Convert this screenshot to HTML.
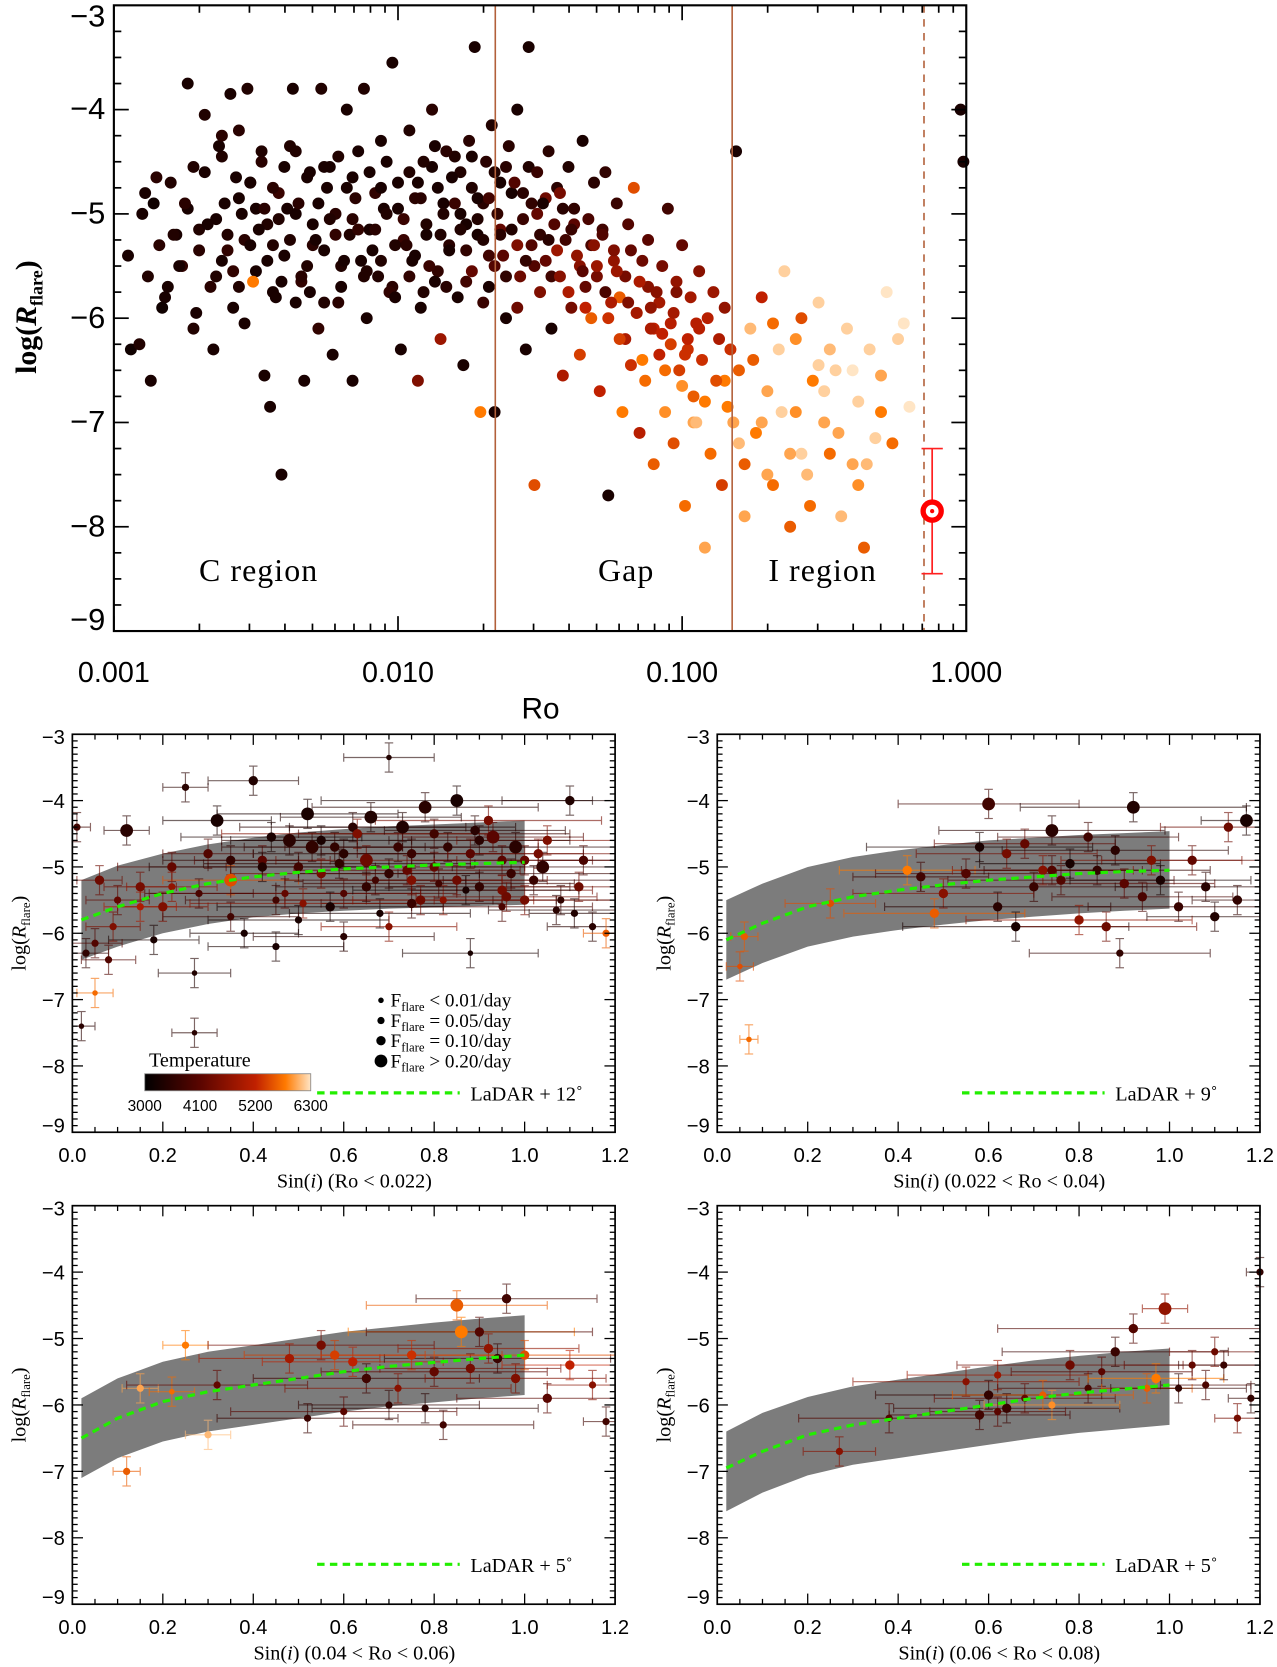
<!DOCTYPE html>
<html><head><meta charset="utf-8">
<style>
html,body{margin:0;padding:0;background:#fff;}
svg{display:block;}
.sans{font-family:"Liberation Sans",sans-serif;}
.serif{font-family:"Liberation Serif",serif;}
</style></head>
<body>
<svg id="fig" width="1277" height="1667" viewBox="0 0 1200 1566.5" xmlns="http://www.w3.org/2000/svg"></svg>
<script>
// ---------------- TOP PANEL DATA ----------------
const topLogRo = [
-2.95,-2.94,-2.91,-2.89,-2.87,-2.85,-2.83,-2.81,-2.79,-2.77,
-2.75,-2.74,-2.72,-2.71,-2.70,-2.68,-2.67,-2.65,-2.64,-2.63,
-2.62,-2.61,-2.60,-2.59,-2.58,-2.57,-2.56,-2.55,-2.54,-2.53,
-2.52,-2.51,-2.50,-2.48,-2.47,-2.46,-2.45,-2.44,-2.43,-2.42,
-2.41,-2.40,-2.38,-2.37,-2.36,-2.35,-2.33,-2.32,-2.31,-2.30,
-2.28,-2.27,-2.26,-2.25,-2.23,-2.22,-2.21,-2.20,-2.18,-2.17,
-2.16,-2.15,-2.13,-2.12,-2.11,-2.10,-2.08,-2.07,-2.06,-2.05,
-2.03,-2.02,-2.01,-2.00,-1.99,-1.98,-1.96,-1.95,-1.94,-1.93,
-1.92,-1.91,-1.90,-1.88,-1.87,-1.86,-1.85,-1.84,-1.83,-1.82,
-1.80,-1.79,-1.78,-1.77,-1.76,-1.75,-1.74,-1.73,-1.72,-1.71,
-1.70,-1.69,-1.68,-1.67,-1.66,-1.65,-1.64,-1.63,-1.62,-1.61,
-1.60,-1.58,-1.57,-1.56,-1.55,-1.54,-1.53,-1.52,-1.51,-1.50,
-1.49,-1.48,-1.47,-1.46,-1.45,-1.44,-1.43,-1.42,-1.41,-1.40,
-1.39,-1.38,-1.37,-1.36,-1.35,-1.34,-1.33,-1.32,-1.31,-1.30,
-1.29,-1.28,-1.27,-1.26,-1.25,-1.24,-1.23,-1.22,-1.21,-1.20,
-1.19,-1.18,-1.17,-1.16,-1.15,-1.14,-1.13,-1.12,-1.11,-1.10,
-1.09,-1.08,-1.07,-1.06,-1.05,-1.04,-1.03,-1.02,-1.01,-1.00,
-0.99,-0.98,-0.97,-0.96,-0.95,-0.94,-0.93,-0.92,-0.91,-0.90,
-0.89,-0.88,-0.87,-0.86,-0.85,-0.84,-0.83,-0.82,-0.81,-0.80,
-0.78,-0.76,-0.74,-0.72,-0.70,-0.68,-0.66,-0.64,-0.62,-0.60,
-0.58,-0.56,-0.54,-0.52,-0.50,-0.48,-0.46,-0.44,-0.42,-0.40,
-0.38,-0.36,-0.34,-0.32,-0.30,-0.28,-0.26,-0.24,-0.22,-0.20,
-0.02,-0.01,
-2.49,-2.44,-2.39,-2.34,-2.29,-2.24,-2.19,-2.14,-2.09,-2.04,
-1.97,-1.93,-1.89,-1.85,-1.81,-1.76,-1.72,-1.68,-1.64,-1.59,
-1.55,-1.51,-1.47,-1.43,-1.39,-1.35,-1.31,-1.27,-1.23,-1.19,
-1.15,-1.11,-1.07,-1.03,-0.99,-0.95,-2.62,-2.56,-2.52,-2.47,
-2.41,-2.36,-2.31,-2.26,-2.21,-2.16,-2.11,-2.06,-2.01,-1.96,
-1.91,-1.87,-1.83,-1.78,-1.74,-1.70,-1.66,-1.62,-1.58,-1.53
];
const topLogRf = [
-5.40,-6.30,-6.25,-4.80,-6.60,-4.65,-5.90,-5.70,-5.20,-5.50,
-4.90,-3.75,-4.55,-5.95,-5.35,-4.05,-5.10,-6.30,-5.60,-4.35,
-4.25,-4.90,-5.20,-3.85,-5.55,-4.65,-4.20,-5.00,-6.05,-3.80,
-5.30,-5.65,-4.95,-4.40,-6.55,-5.45,-6.85,-4.75,-5.80,-5.05,
-7.50,-4.55,-5.25,-3.80,-5.85,-4.90,-6.60,-5.50,-4.60,-5.10,
-6.10,-3.80,-5.35,-4.75,-6.35,-5.00,-4.45,-5.70,-4.00,-5.20,
-6.60,-4.85,-5.45,-3.80,-6.00,-4.60,-5.15,-5.60,-4.30,-4.95,
-5.75,-3.55,-5.30,-4.70,-6.30,-5.05,-4.20,-5.45,-4.85,-6.60,
-5.90,-4.50,-5.20,-4.00,-5.65,-4.75,-6.20,-5.00,-4.40,-5.35,
-4.90,-5.80,-4.60,-6.45,-5.10,-4.30,-5.55,-3.40,-4.85,-6.90,
-5.25,-4.50,-5.70,-4.15,-6.90,-5.00,-4.70,-5.40,-6.00,-4.35,
-5.15,-4.00,-5.60,-4.80,-6.30,-3.40,-5.30,-7.60,-4.60,-5.75,
-4.90,-5.45,-4.40,-6.10,-5.10,-4.75,-5.60,-6.55,-5.25,-4.55,
-5.90,-4.95,-5.40,-6.35,-4.30,-5.70,-5.05,-6.00,-4.70,-5.50,
-6.70,-5.20,-4.60,-7.70,-5.85,-5.35,-4.90,-6.20,-6.90,-5.60,
-5.10,-6.45,-4.75,-5.95,-7.10,-5.45,-6.60,-5.25,-6.10,-7.40,
-5.75,-6.35,-5.50,-6.90,-4.95,-6.05,-7.20,-5.65,-6.50,-5.30,
-7.80,-6.20,-5.80,-6.75,-7.00,-5.55,-6.40,-8.20,-6.00,-7.30,
-5.75,-6.60,-6.20,-7.60,-5.90,-6.85,-6.30,-7.00,-4.40,-6.50,
-7.40,-6.10,-7.10,-5.80,-6.70,-7.60,-6.30,-5.55,-7.30,-6.90,
-6.00,-7.50,-6.60,-5.85,-7.00,-7.30,-6.50,-7.90,-6.10,-7.40,
-6.80,-8.20,-6.30,-7.15,-6.55,-5.75,-7.20,-6.20,-6.05,-6.85,
-4.00,-4.50,
-5.15,-5.30,-4.95,-5.60,-5.25,-5.05,-5.45,-5.15,-5.35,-5.00,
-5.30,-4.70,-5.50,-5.20,-4.65,-5.35,-5.05,-4.85,-5.20,-4.70,
-5.45,-5.00,-5.25,-4.80,-5.15,-5.55,-5.30,-5.75,-5.55,-5.85,
-5.65,-5.90,-6.15,-5.95,-6.35,-6.05,-5.45,-5.70,-4.70,-4.95,
-5.65,-4.40,-5.75,-4.55,-5.85,-4.65,-5.55,-4.75,-5.80,-5.60,
-5.75,-4.35,-5.70,-5.15,-4.45,-5.85,-5.50,-4.55,-5.90,-4.90
];
const topTeff = [
3300,3200,3400,3300,3300,3500,3200,3300,3400,3300,
3500,3300,3400,3300,3500,3400,3300,3300,3400,3300,
3500,3300,3400,3300,3600,3300,3500,3300,3300,3400,
3300,5800,3300,3400,3300,3300,3300,3500,3300,3400,
3300,3300,3400,3300,3300,3500,3300,3400,3300,3300,
3600,3400,3300,3300,3300,3500,3400,3300,3300,3400,
3300,3500,3300,3400,3300,3300,3500,3400,3300,3300,
3600,3300,3400,3300,3300,3700,3400,3300,3500,4500,
3300,3400,3300,3500,3300,3300,4800,3400,3500,3300,
3700,3300,3400,3300,3300,3500,4200,3300,3300,5800,
3400,3500,3300,3400,3300,3600,3300,4100,3300,3500,
3400,3300,4300,3500,3300,3300,4000,5500,3700,4500,
3300,4200,3500,3300,4000,3500,4600,5000,3800,3400,
4400,3600,4700,5400,3300,4200,3900,5600,3500,4800,
5200,4000,3600,3300,5000,4500,3700,5400,5800,4400,
4000,5300,5500,4900,5100,4300,5700,4100,5000,5600,
4600,5200,4400,5900,3800,5100,5500,4700,5400,4200,
5700,5200,4900,5600,6100,4600,5300,6000,5100,5700,
4800,5500,5000,5400,4700,5800,5300,6000,3300,5600,
5600,6100,5800,5200,6000,5700,6200,6200,6000,5900,
5500,6100,5800,6200,6000,5700,6200,6100,6200,6000,
6200,5600,6200,6200,6000,6300,5700,6200,6300,6300,
3300,3300,
3300,3400,3300,3500,3300,3400,3300,3600,3300,3400,
3500,3300,3700,3400,3300,3600,3400,3800,3500,4000,
3600,4200,3500,4400,3700,4100,4600,3900,4800,4500,
5000,4700,5200,4900,5300,5100,3300,3400,3300,3500,
3300,3400,3300,3300,3500,3300,3400,3300,3300,3600,
3400,3300,3500,3400,3300,3700,4000,3500,4300,3600
];
// second batch (dense cloud + I region)
const topLogRo2 = [
-2.90,-2.88,-2.86,-2.84,-2.82,-2.80,-2.78,-2.76,-2.74,-2.72,
-2.70,-2.68,-2.66,-2.64,-2.62,-2.60,-2.58,-2.56,-2.54,-2.52,
-2.50,-2.48,-2.46,-2.44,-2.42,-2.40,-2.38,-2.36,-2.34,-2.32,
-2.30,-2.28,-2.26,-2.24,-2.22,-2.20,-2.18,-2.16,-2.14,-2.12,
-2.10,-2.08,-2.06,-2.04,-2.02,-2.00,-1.98,-1.96,-1.94,-1.92,
-1.90,-1.88,-1.86,-1.84,-1.82,-1.80,-1.78,-1.76,-1.74,-1.72,
-1.70,-1.68,-1.66,-1.64,-1.62,-1.60,-1.58,-1.56,-1.54,-1.52,
-1.50,-1.48,-1.46,-1.44,-1.42,-1.40,-1.38,-1.36,-1.34,-1.32,
-1.30,-1.28,-1.26,-1.24,-1.22,-1.20,-1.18,-1.16,-1.14,-1.12,
-1.10,-1.08,-1.06,-1.04,-1.02,-1.00,-0.98,-0.96,-0.94,-0.92,
-0.85,-0.80,-0.75,-0.70,-0.65,-0.60,-0.55,-0.50,-0.45,-0.40,
-0.35,-0.30,-0.78,-0.68,-0.58,-0.48,-0.38,-0.62,-0.52,-0.72
];
const topLogRf2 = [
-5.00,-5.60,-4.90,-5.30,-5.80,-4.70,-5.20,-5.50,-4.95,-6.10,
-5.15,-4.60,-5.70,-5.05,-4.45,-5.35,-5.90,-4.85,-5.25,-4.70,
-5.55,-4.50,-5.10,-5.75,-4.80,-5.40,-4.35,-5.00,-5.65,-4.65,
-5.30,-4.90,-5.85,-4.55,-5.20,-5.50,-4.75,-5.05,-4.40,-5.60,
-5.15,-4.80,-5.45,-4.50,-5.70,-4.95,-5.25,-4.60,-5.40,-4.85,
-5.10,-4.55,-5.55,-4.90,-5.30,-4.45,-5.00,-5.65,-4.75,-5.20,
-4.90,-5.40,-4.60,-5.15,-5.60,-4.80,-5.30,-5.05,-4.55,-5.50,
-5.20,-4.85,-5.60,-5.35,-4.95,-5.75,-5.10,-5.50,-5.90,-5.30,
-5.60,-5.15,-6.00,-5.45,-5.80,-6.20,-5.35,-5.95,-6.40,-5.70,
-6.10,-5.85,-6.50,-6.25,-5.75,-6.65,-6.30,-7.00,-6.10,-6.80,
-6.60,-7.20,-6.40,-7.50,-6.90,-6.20,-7.80,-6.70,-7.10,-6.50,
-7.40,-6.90,-7.90,-6.05,-7.30,-6.30,-7.60,-8.00,-6.45,-7.00
];
const topTeff2 = [
3300,3400,3200,3500,3300,3400,3300,3600,3300,3400,
3400,3300,3500,3300,3400,3600,3300,3300,3500,3400,
3300,3500,3400,3300,3700,3300,3400,3300,3600,3300,
3500,3300,3400,3300,3600,3400,3300,3500,3300,3400,
3300,3600,3400,3300,3500,3300,3700,3400,3300,3500,
3400,3300,3600,3300,3500,3400,3300,3800,3400,3300,
3500,3800,3400,4200,3600,3300,4500,3700,3400,4000,
3600,4300,3800,4800,3500,5000,4100,4600,5200,3900,
4400,3800,5300,4700,5600,5000,4200,5500,5800,4600,
5200,4900,5700,5400,4500,5900,5300,6000,5100,5800,
5800,6100,5600,6000,6200,5900,5700,6200,6000,6300,
6100,5800,6000,5700,6200,6100,5900,5600,6200,6000
];
const topErrLogRo = [-0.12];
const topErrVal = [-7.85];
const topErrSize = [0.6];

// ---------------- BOTTOM PANEL DATA ----------------
const p1Sin = [0.01,0.02,0.03,0.05,0.06,0.08,0.10,0.12,0.15,0.18,0.20,0.22,0.25,0.27,0.30,0.32,0.35,0.38,0.40,0.42,0.45,0.48,0.50,0.52,0.55,0.58,0.60,0.62,0.65,0.68,0.70,0.72,0.75,0.78,0.80,0.82,0.85,0.88,0.90,0.92,0.95,0.98,1.00,1.02,1.05,1.08,1.10,1.12,1.15,1.18,0.05,0.27,0.60,0.70,0.88,0.35,0.45,0.75,0.95,0.55,0.65,0.80,0.90,1.00,0.50,0.70,0.85,0.60,0.95,0.75,
0.42,0.47,0.53,0.57,0.63,0.67,0.73,0.77,0.83,0.87,0.93,0.97,1.03,1.07,1.13,0.44,0.51,0.59,0.66,0.74,0.81,0.89,0.96,1.04,1.11,0.22,0.28,0.15,0.09,0.35];
const p1Val = [-4.4,-7.4,-6.3,-6.9,-5.2,-6.4,-5.5,-4.45,-5.3,-6.1,-5.6,-5.0,-3.8,-7.5,-4.8,-4.3,-5.2,-6.0,-3.7,-4.9,-5.5,-4.6,-5.8,-4.2,-5.1,-4.7,-5.4,-4.4,-4.9,-5.7,-3.35,-4.7,-5.2,-4.1,-4.5,-5.5,-4.0,-4.8,-5.3,-4.3,-5.6,-4.7,-4.9,-5.2,-4.6,-5.5,-4.0,-5.3,-5.9,-6.0,-6.15,-6.6,-6.05,-5.9,-6.3,-5.75,-6.2,-5.55,-5.35,-4.6,-5.3,-5.0,-4.6,-5.5,-5.0,-5.1,-5.2,-4.8,-4.9,-4.8,
-5.0,-5.4,-4.7,-5.6,-4.5,-5.2,-4.4,-5.5,-4.7,-5.35,-4.55,-5.1,-4.8,-5.65,-4.9,-4.55,-5.55,-4.95,-4.25,-5.05,-5.25,-4.45,-5.45,-5.0,-5.7,-5.3,-5.4,-5.6,-5.9,-4.9];
const p1XErr = [.03,.03,.05,.04,.05,.06,.07,.05,.08,.1,.1,.12,.05,.05,.1,.12,.15,.12,.1,.15,.2,.15,.2,.2,.2,.2,.25,.25,.2,.2,.1,.25,.2,.25,.3,.2,.3,.25,.2,.25,.2,.25,.2,.2,.2,.15,.15,.15,.1,.05,.06,.08,.2,.15,.15,.15,.15,.2,.2,.2,.2,.2,.2,.2,.2,.2,.2,.2,.2,.2,
.25,.3,.2,.25,.3,.2,.25,.3,.2,.25,.2,.25,.2,.15,.1,.2,.25,.3,.2,.25,.3,.2,.2,.2,.1,.1,.12,.08,.06,.15];
const p1Teff = [3800,3500,3600,5700,4300,4000,4200,3500,4400,3300,4500,4200,3500,3500,4000,3300,5500,3300,3400,4100,3800,3500,3300,3300,4400,3600,4000,3500,4300,3300,3400,3700,4500,3500,3800,4600,3300,4100,3600,4400,3900,3500,4200,3700,4500,3600,3400,4300,3500,5600,4000,3400,3500,4600,3300,3800,3300,3700,4400,3300,3600,4200,3500,4400,3800,3600,4300,3500,4100,3700,
3400,4200,3600,3300,4500,3800,3400,4300,3600,3300,4100,3700,4400,3500,3900,3300,4600,3600,3400,4200,3800,3500,4300,3600,3400,4700,3900,5000,4500,3600];
const p1Size = [1,0,1,0,2,1,1,3,2,1,2,2,1,0,2,3,3,1,2,2,1,3,1,3,2,2,1,2,3,1,0,2,2,3,2,1,3,2,2,2,1,3,2,2,2,1,2,2,1,1,1,0,1,1,0,1,1,2,2,2,2,2,2,2,2,2,2,2,2,2,
2,1,3,2,2,1,3,2,2,1,3,2,2,1,2,2,1,2,3,2,1,2,2,3,1,1,1,1,1,2];

const p2Sin = [0.05,0.06,0.07,0.25,0.42,0.48,0.50,0.55,0.58,0.60,0.62,0.64,0.66,0.68,0.70,0.72,0.74,0.76,0.78,0.80,0.82,0.84,0.86,0.88,0.90,0.92,0.94,0.96,0.98,1.02,1.05,1.08,1.10,1.13,1.15,1.17,0.45,0.74,0.89];
const p2Val = [-6.5,-6.05,-7.6,-5.55,-5.05,-5.7,-5.4,-5.1,-4.7,-4.05,-5.6,-4.8,-5.9,-4.65,-5.3,-5.05,-4.45,-5.2,-4.95,-5.8,-4.55,-5.05,-5.9,-4.75,-5.25,-4.1,-5.45,-4.9,-5.2,-5.6,-4.9,-5.3,-5.75,-4.4,-5.5,-4.3,-5.15,-5.05,-6.3];
const p2XErr = [.03,.03,.02,.1,.15,.2,.2,.2,.25,.2,.25,.2,.25,.2,.25,.2,.25,.25,.2,.25,.2,.25,.2,.25,.2,.25,.2,.2,.2,.2,.2,.2,.15,.15,.1,.1,.15,.2,.2];
const p2Teff = [5500,5600,5700,5500,5800,5600,4600,4000,3300,3800,3500,4400,3300,4200,3700,4600,3500,4000,3300,4700,3800,3600,4300,3500,4100,3400,3900,4500,3300,3700,4200,3500,3400,4300,3600,3300,3800,4000,3600];
const p2Size = [0,1,0,1,2,2,2,2,2,3,2,2,2,2,2,2,3,2,2,2,2,2,2,2,2,3,2,2,2,2,2,2,2,2,2,3,2,2,1];

const p3Sin = [0.12,0.15,0.22,0.25,0.30,0.32,0.48,0.52,0.55,0.60,0.62,0.65,0.70,0.72,0.75,0.78,0.80,0.82,0.85,0.86,0.88,0.90,0.92,0.94,0.96,0.98,1.00,1.05,1.10,1.15,1.18,0.58];
const p3Val = [-7.0,-5.75,-5.8,-5.1,-6.45,-5.7,-5.3,-6.2,-5.1,-6.1,-5.35,-5.6,-6.0,-5.75,-5.25,-6.05,-5.5,-6.3,-4.5,-4.9,-5.45,-4.9,-5.15,-5.3,-4.4,-5.6,-5.25,-5.9,-5.4,-5.7,-6.25,-5.25];
const p3XErr = [.03,.04,.05,.05,.05,.2,.2,.2,.25,.25,.2,.25,.2,.25,.2,.25,.25,.2,.2,.25,.2,.25,.2,.25,.2,.2,.2,.2,.15,.1,.05,.2];
const p3Teff = [5600,6000,5700,5800,6100,4200,4900,3700,4400,4100,5200,3800,3600,4600,5300,3500,4200,3800,5600,5800,4400,4000,4700,3700,3800,4500,5500,4100,5200,4600,3800,5400];
const p3Size = [1,1,0,1,1,1,2,1,2,1,2,2,1,1,2,1,2,1,3,3,2,2,2,2,2,2,2,2,2,1,1,2];

const p4Sin = [0.27,0.38,0.55,0.58,0.60,0.62,0.64,0.68,0.72,0.74,0.78,0.82,0.85,0.88,0.92,0.95,0.97,0.99,1.02,1.05,1.08,1.10,1.12,1.15,1.18,1.20,0.62];
const p4Val = [-6.7,-6.2,-5.65,-6.15,-5.85,-5.55,-6.05,-5.9,-5.85,-6.0,-5.4,-5.75,-5.5,-5.2,-4.85,-5.75,-5.6,-4.55,-5.75,-5.4,-5.7,-5.2,-5.4,-6.2,-5.9,-4.0,-6.1];
const p4XErr = [.08,.2,.25,.2,.25,.2,.25,.2,.2,.15,.25,.2,.2,.25,.3,.1,.15,.05,.15,.15,.1,.1,.1,.05,.05,.03,.15];
const p4Teff = [4600,4000,4600,3800,3600,4800,3700,4200,5600,5900,4300,3900,4100,3700,4000,5600,5800,4700,3600,4200,3900,4300,3700,4400,3600,3600,4100];
const p4Size = [1,1,1,2,2,1,2,1,1,1,2,1,1,2,2,1,2,3,1,1,1,1,1,1,1,1,1];

// LaDAR curves: center, upper, lower vs sin(i)
const curveSin = [0.02,0.1,0.2,0.3,0.4,0.5,0.6,0.7,0.8,0.9,1.0];
const p1Center = [-5.8,-5.6,-5.4,-5.25,-5.15,-5.08,-5.03,-5.0,-4.97,-4.95,-4.93];
const p1Upper = [-5.2,-4.98,-4.8,-4.66,-4.56,-4.48,-4.43,-4.39,-4.36,-4.33,-4.3];
const p1Lower = [-6.4,-6.2,-6.0,-5.86,-5.76,-5.7,-5.66,-5.63,-5.61,-5.59,-5.57];
const p2Center = [-6.1,-5.85,-5.6,-5.45,-5.35,-5.27,-5.2,-5.15,-5.1,-5.07,-5.05];
const p2Upper = [-5.5,-5.25,-5.0,-4.85,-4.75,-4.67,-4.6,-4.56,-4.52,-4.49,-4.46];
const p2Lower = [-6.7,-6.45,-6.2,-6.05,-5.95,-5.87,-5.8,-5.75,-5.7,-5.66,-5.63];
const p3Center = [-6.5,-6.2,-5.95,-5.8,-5.7,-5.6,-5.5,-5.42,-5.36,-5.3,-5.25];
const p3Upper = [-5.9,-5.6,-5.35,-5.2,-5.1,-5.0,-4.9,-4.83,-4.76,-4.7,-4.65];
const p3Lower = [-7.1,-6.8,-6.55,-6.4,-6.3,-6.2,-6.1,-6.02,-5.96,-5.9,-5.85];
const p4Center = [-6.95,-6.7,-6.45,-6.3,-6.2,-6.1,-6.0,-5.9,-5.82,-5.76,-5.7];
const p4Upper = [-6.4,-6.12,-5.88,-5.72,-5.62,-5.52,-5.42,-5.33,-5.26,-5.2,-5.15];
const p4Lower = [-7.6,-7.32,-7.06,-6.9,-6.8,-6.7,-6.6,-6.5,-6.42,-6.36,-6.3];
const ladarLabels = ["LaDAR + 12˚","LaDAR + 9˚","LaDAR + 5˚","LaDAR + 5˚"];
const xTitles = ["(Ro < 0.022)","(0.022 < Ro < 0.04)","(0.04 < Ro < 0.06)","(0.06 < Ro < 0.08)"];
const yTicks = [-3,-4,-5,-6,-7,-8,-9];
const xTicksBottom = [0.0,0.2,0.4,0.6,0.8,1.0,1.2];
const xTicksTop = [0.001,0.010,0.100,1.000];
const cbarTicks = [3000,4100,5200,6300];

// ---------------- helpers ----------------
const NS = "http://www.w3.org/2000/svg";
const svg = document.getElementById('fig');
function mk(tag, attrs, parent){
  const e = document.createElementNS(NS, tag);
  for (const k in attrs) e.setAttribute(k, attrs[k]);
  (parent||svg).appendChild(e);
  return e;
}
const cstops = [[3000,[0,0,0]],[4100,[90,5,0]],[5200,[192,32,0]],[5800,[255,122,0]],[6300,[255,229,197]]];
function tcol(t){
  if (t<=cstops[0][0]) return 'rgb(0,0,0)';
  for (let i=1;i<cstops.length;i++){
    if (t<=cstops[i][0]){
      const a=cstops[i-1], b=cstops[i], f=(t-a[0])/(b[0]-a[0]);
      const c=a[1].map((v,j)=>Math.round(v+(b[1][j]-v)*f));
      return 'rgb('+c.join(',')+')';
    }
  }
  return 'rgb(255,229,197)';
}

// ---------------- TOP PANEL ----------------
const T = {l:107, r:908, t:5, b:593};
const tx = lr => T.l + (lr + 3) / 3 * (T.r - T.l);
const ty = v => T.t + (-3 - v) / 6 * (T.b - T.t);
const topG = mk('g', {});


const topPts = mk('g', {}, topG);


const allRo = topLogRo2.concat(topLogRo), allRf = topLogRf2.concat(topLogRf), allT = topTeff2.concat(topTeff);
for (let i=0;i<allRo.length;i++){
  const c = mk('circle', {cx:tx(allRo[i]).toFixed(1), cy:ty(allRf[i]).toFixed(1), r:5.6, fill:tcol(allT[i])}, topPts);
  
  
}
[[Math.log10(0.022),''],[Math.log10(0.15),''],[Math.log10(0.71),'7,6']].forEach((d,i)=>{
  const ln = mk('line',{x1:tx(d[0]),x2:tx(d[0]),y1:T.t,y2:T.b,stroke:'#b2603a','stroke-width':1.5,'stroke-dasharray':d[1]||'none'},topG);
  
  
});
{
  const x = tx(topErrLogRo[0]), y = ty(topErrVal[0]), y1 = ty(topErrVal[0]+topErrSize[0]), y2 = ty(topErrVal[0]-topErrSize[0]);
  const g = mk('g',{stroke:'#ff2020','stroke-width':1.6,fill:'none'},topG);
  
  
  mk('line',{x1:x,x2:x,y1:y1,y2:y2},g);
  mk('line',{x1:x-10,x2:x+10,y1:y1,y2:y1},g);
  mk('line',{x1:x-10,x2:x+10,y1:y2,y2:y2},g);
  mk('circle',{cx:x,cy:y,r:8.5,stroke:'#ff0000','stroke-width':5,fill:'#fff'},g);
  mk('circle',{cx:x,cy:y,r:2,fill:'#ff0000',stroke:'none'},g);
}
const tf = mk('rect',{x:T.l,y:T.t,width:T.r-T.l,height:T.b-T.t,fill:'none',stroke:'#000','stroke-width':2},topG);


for (let d=-3; d<0; d++){
  for (let m=1;m<10;m++){
    const x = tx(d+Math.log10(m)); const L = m===1?14:7;
    mk('line',{x1:x,x2:x,y1:T.b,y2:T.b-L,stroke:'#000','stroke-width':1.6},topG);
    mk('line',{x1:x,x2:x,y1:T.t,y2:T.t+L,stroke:'#000','stroke-width':1.6},topG);
  }
}
for (let v=-9; v<=-3.001; v+=0.25){
  const y = ty(v); const major = Math.abs(v-Math.round(v))<1e-6; const L = major?14:7;
  mk('line',{x1:T.l,x2:T.l+L,y1:y,y2:y,stroke:'#000','stroke-width':1.6},topG);
  mk('line',{x1:T.r,x2:T.r-L,y1:y,y2:y,stroke:'#000','stroke-width':1.6},topG);
}
yTicks.forEach(v=>{
  const t = mk('text',{x:T.l-8,y:ty(v)+(v===-9?-1:(v===-3?20:9)),'text-anchor':'end','font-size':29,class:'sans'},topG);
  t.textContent = '\u2212'+Math.abs(v);
  
  
});
xTicksTop.forEach(v=>{
  const t = mk('text',{x:tx(Math.log10(v)),y:641,'text-anchor':'middle','font-size':27,class:'sans'},topG);
  t.textContent = v.toFixed(3);
  
  
});
{
  const t = mk('text',{x:508,y:675,'text-anchor':'middle','font-size':28,class:'sans'},topG);
  t.textContent='Ro';
  
  
  const yt = mk('text',{x:0,y:0,'text-anchor':'middle','font-size':28,'font-weight':'bold',class:'serif',transform:'translate(34,298) rotate(-90)'},topG);
  yt.innerHTML = 'log(<tspan font-style="italic">R</tspan><tspan font-size="17" dy="6">flare</tspan><tspan dy="-6">)</tspan>';
  
  
  [['C region',187,'c-region-label'],['Gap',562,'gap-label'],['I region',722,'i-region-label']].forEach(d=>{
    const r = mk('text',{x:d[1],y:546,'font-size':30,class:'serif','letter-spacing':'1'},topG);
    r.textContent=d[0];
    
    
  });
}

// ---------------- BOTTOM PANELS ----------------
const panels = [
  {l:68,r:578,t:690,b:1064,sin:p1Sin,val:p1Val,xe:p1XErr,te:p1Teff,sz:p1Size,c:p1Center,u:p1Upper,lo:p1Lower},
  {l:674,r:1184,t:690,b:1064,sin:p2Sin,val:p2Val,xe:p2XErr,te:p2Teff,sz:p2Size,c:p2Center,u:p2Upper,lo:p2Lower},
  {l:68,r:578,t:1133,b:1507.5,sin:p3Sin,val:p3Val,xe:p3XErr,te:p3Teff,sz:p3Size,c:p3Center,u:p3Upper,lo:p3Lower},
  {l:674,r:1184,t:1133,b:1507.5,sin:p4Sin,val:p4Val,xe:p4XErr,te:p4Teff,sz:p4Size,c:p4Center,u:p4Upper,lo:p4Lower}
];
const sizeR = [2.6,3.4,4.4,6.0];
panels.forEach((P,pi)=>{
  const X = s => P.l + s/1.2*(P.r-P.l);
  const Y = v => P.t + (-3 - v)/6*(P.b-P.t);
  const g = mk('g',{});
  
  
  let d = '';
  curveSin.forEach((s,i)=>{ d += (i?'L':'M')+X(s).toFixed(1)+','+Y(P.u[i]).toFixed(1); });
  for (let i=curveSin.length-1;i>=0;i--) d += 'L'+X(curveSin[i]).toFixed(1)+','+Y(P.lo[i]).toFixed(1);
  const band = mk('path',{d:d+'Z',fill:'#7c7c7c'},g);
  
  
  const ptsG = mk('g',{},g);
  
  
  for (let i=0;i<P.sin.length;i++){
    const col = tcol(P.te[i]);
    const x = X(P.sin[i]), y = Y(P.val[i]);
    const xa = X(Math.max(0,P.sin[i]-P.xe[i])), xb = X(Math.min(1.2,P.sin[i]+P.xe[i]));
    const ya = Y(P.val[i]+0.22), yb = Y(P.val[i]-0.22);
    const eg = mk('g',{stroke:col,'stroke-width':1.1,opacity:0.6},ptsG);
    
    
    mk('line',{x1:xa,x2:xb,y1:y,y2:y},eg);
    mk('line',{x1:x,x2:x,y1:ya,y2:yb},eg);
    mk('line',{x1:xa,x2:xa,y1:y-4,y2:y+4},eg);
    mk('line',{x1:xb,x2:xb,y1:y-4,y2:y+4},eg);
    mk('line',{x1:x-4,x2:x+4,y1:ya,y2:ya},eg);
    mk('line',{x1:x-4,x2:x+4,y1:yb,y2:yb},eg);
  }
  for (let i=0;i<P.sin.length;i++){
    const c = mk('circle',{cx:X(P.sin[i]).toFixed(1),cy:Y(P.val[i]).toFixed(1),r:sizeR[P.sz[i]],fill:tcol(P.te[i])},ptsG);
    
    
  }
  let cd='';
  curveSin.forEach((s,i)=>{ cd += (i?'L':'M')+X(s).toFixed(1)+','+Y(P.c[i]).toFixed(1); });
  const cv = mk('path',{d:cd,fill:'none',stroke:'#22ee00','stroke-width':3,'stroke-dasharray':'7,5'},g);
  
  
  const lx = P.l+226;
  const ly = P.t + 337;
  const lb = mk('rect',{x:lx-4,y:ly-16,width:P.r-lx-14,height:30,fill:'#fff'},g);
  
  
  const ll = mk('line',{x1:lx+4,x2:lx+138,y1:ly,y2:ly,stroke:'#22ee00','stroke-width':3,'stroke-dasharray':'7,5'},g);
  
  
  const lt = mk('text',{x:lx+148,y:ly+7,'font-size':19,class:'serif'},g);
  lt.textContent = ladarLabels[pi];
  
  
  const fr = mk('rect',{x:P.l,y:P.t,width:P.r-P.l,height:P.b-P.t,fill:'none',stroke:'#000','stroke-width':1.6},g);
  
  
  for (let k=0;k<=24;k++){
    const x = X(k*0.05); const L = k%4===0?10:5;
    mk('line',{x1:x,x2:x,y1:P.b,y2:P.b-L,stroke:'#000','stroke-width':1.2},g);
    mk('line',{x1:x,x2:x,y1:P.t,y2:P.t+L,stroke:'#000','stroke-width':1.2},g);
  }
  for (let k=0;k<=60;k++){
    const y = P.t + k/60*(P.b-P.t); const L = k%10===0?10:5;
    mk('line',{x1:P.l,x2:P.l+L,y1:y,y2:y,stroke:'#000','stroke-width':1.2},g);
    mk('line',{x1:P.r,x2:P.r-L,y1:y,y2:y,stroke:'#000','stroke-width':1.2},g);
  }
  yTicks.forEach(v=>{
    const t = mk('text',{x:P.l-7,y:Y(v)+(v===-3?9:(v===-9?0:7)),'text-anchor':'end','font-size':19,class:'sans'},g);
    t.textContent = '\u2212'+Math.abs(v);
    
    
  });
  xTicksBottom.forEach(v=>{
    const t = mk('text',{x:X(v),y:P.b+28,'text-anchor':'middle','font-size':19,class:'sans'},g);
    t.textContent = v.toFixed(1);
    
    
  });
  const xt = mk('text',{x:(P.l+P.r)/2+10,y:P.b+52,'text-anchor':'middle','font-size':19,class:'serif'},g);
  xt.innerHTML = 'Sin(<tspan font-style="italic">i</tspan>) '+xTitles[pi].replace('<','&lt;').replace('<','&lt;');
  
  
  const yt = mk('text',{x:0,y:0,'text-anchor':'middle','font-size':19,class:'serif',transform:'translate('+(P.l-44)+','+((P.t+P.b)/2)+') rotate(-90)'},g);
  yt.innerHTML = 'log(<tspan font-style="italic">R</tspan><tspan font-size="12" dy="4">flare</tspan><tspan dy="-4">)</tspan>';
  
  
});

// ---------------- panel 1 legends ----------------
{
  const g = mk('g',{});
  
  
  mk('rect',{x:354,y:926,width:210,height:82,fill:'#fff'},g);
  const items = [['< 0.01/day',2.6],['= 0.05/day',3.4],['= 0.10/day',4.4],['> 0.20/day',6.0]];
  items.forEach((it,i)=>{
    const y = 940 + i*19;
    mk('circle',{cx:358,cy:y,r:it[1],fill:'#000'},g);
    const t = mk('text',{x:367,y:y+6,'font-size':18,class:'serif'},g);
    t.innerHTML = 'F<tspan font-size="12" dy="4">flare</tspan><tspan dy="-4"> '+it[0].replace('<','&lt;').replace('>','&gt;')+'</tspan>';
    
    
  });
  const cb = mk('g',{});
  
  
  const defs = mk('defs',{},cb);
  const lg = mk('linearGradient',{id:'tg',x1:0,x2:1,y1:0,y2:0},defs);
  cstops.forEach(s=>mk('stop',{offset:((s[0]-3000)/3300).toFixed(3),'stop-color':'rgb('+s[1].join(',')+')'},lg));
  const tt = mk('text',{x:140,y:1002,'font-size':19,class:'serif'},cb);
  tt.textContent='Temperature';
  
  
  mk('rect',{x:136,y:1009,width:156,height:16,fill:'url(#tg)',stroke:'#888','stroke-width':0.8},cb);
  cbarTicks.forEach(v=>{
    const t = mk('text',{x:136+(v-3000)/3300*156,y:1044,'text-anchor':'middle','font-size':14.5,class:'sans'},cb);
    t.textContent = String(v);
    
    
  });
}
</script>
</body></html>
